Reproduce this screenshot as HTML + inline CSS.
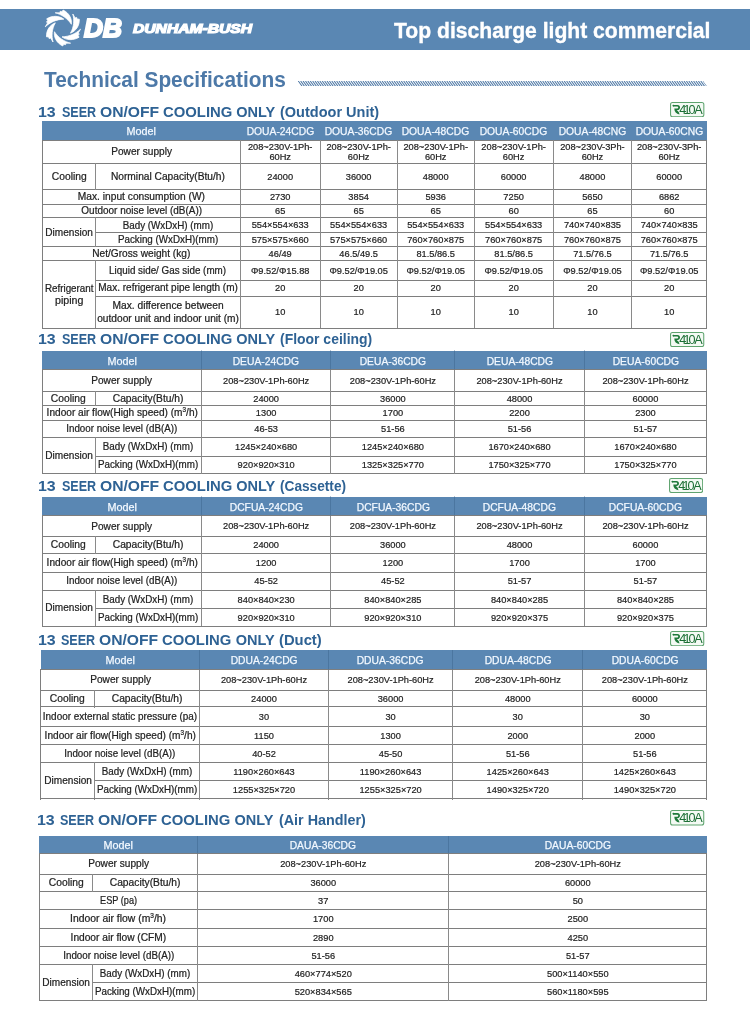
<!DOCTYPE html>
<html><head><meta charset="utf-8"><title>Technical Specifications</title><style>
html,body{margin:0;padding:0;background:#fff}
body{width:750px;height:1016px;position:relative;overflow:hidden;will-change:transform;font-family:"Liberation Sans",sans-serif;color:#222}
.l{position:absolute}
.hb{position:absolute;background:#5a87b3}
.c{position:absolute;display:flex;align-items:center;justify-content:center;text-align:center;white-space:nowrap;box-sizing:border-box}
.c span,.t span,.lg span,.lg2 span,.ts span{display:inline-block}
.h{color:#f2f8ff;font-size:10.5px;-webkit-text-stroke:.25px #f2f8ff}
.h span{transform:scaleX(.98)}
.c span.bl{display:block}
.lb{font-size:10.2px;line-height:12.3px;-webkit-text-stroke:.22px #222}
.d{font-size:9.25px;line-height:10.6px;-webkit-text-stroke:.2px #222}
sup{font-size:6.4px;line-height:0;vertical-align:baseline;position:relative;top:-4.3px}
.t{position:absolute;font-weight:700;color:#2e6294;white-space:nowrap}
.t span{transform-origin:0 50%}
.lg{position:absolute;color:#fff;font-weight:700;font-style:italic;white-space:nowrap}
.lg span,.lg2 span,.ts span{transform-origin:0 50%}
.lg2{position:absolute;color:#fff;font-weight:700;white-space:nowrap}
.ts{position:absolute;color:#4d79a8;font-weight:700;white-space:nowrap}
.hatch{background:repeating-linear-gradient(55deg,#5c85b0 0,#5c85b0 0.95px,#fff 0.95px,#fff 1.75px);clip-path:polygon(0 0,99.3% 0,100% 100%,0.7% 100%)}
</style></head><body>
<div class="l" style="left:0;top:9px;width:750px;height:40.6px;background:#5a87b3"></div>
<svg class="l" style="left:41.8px;top:8.4px" width="41.8" height="40" viewBox="-20 -20 40 40" preserveAspectRatio="none"><g fill="#fff" stroke="#fff" stroke-width=".7" stroke-linejoin="round"><path transform="rotate(0)" d="M8.1,-3.7 C8.9,-9.3 6.0,-15.0 0.2,-18.0 L-0.9,-16.2 L-2.6,-16.7 L-2.9,-15.2 L-7.4,-15.2 C-1.5,-13.6 4.2,-10.0 8.1,-3.7 Z"/><path transform="rotate(60)" d="M8.1,-3.7 C8.9,-9.3 6.0,-15.0 0.2,-18.0 L-0.9,-16.2 L-2.6,-16.7 L-2.9,-15.2 L-7.4,-15.2 C-1.5,-13.6 4.2,-10.0 8.1,-3.7 Z"/><path transform="rotate(120)" d="M8.1,-3.7 C8.9,-9.3 6.0,-15.0 0.2,-18.0 L-0.9,-16.2 L-2.6,-16.7 L-2.9,-15.2 L-7.4,-15.2 C-1.5,-13.6 4.2,-10.0 8.1,-3.7 Z"/><path transform="rotate(180)" d="M8.1,-3.7 C8.9,-9.3 6.0,-15.0 0.2,-18.0 L-0.9,-16.2 L-2.6,-16.7 L-2.9,-15.2 L-7.4,-15.2 C-1.5,-13.6 4.2,-10.0 8.1,-3.7 Z"/><path transform="rotate(240)" d="M8.1,-3.7 C8.9,-9.3 6.0,-15.0 0.2,-18.0 L-0.9,-16.2 L-2.6,-16.7 L-2.9,-15.2 L-7.4,-15.2 C-1.5,-13.6 4.2,-10.0 8.1,-3.7 Z"/><path transform="rotate(300)" d="M8.1,-3.7 C8.9,-9.3 6.0,-15.0 0.2,-18.0 L-0.9,-16.2 L-2.6,-16.7 L-2.9,-15.2 L-7.4,-15.2 C-1.5,-13.6 4.2,-10.0 8.1,-3.7 Z"/></g></svg>
<div class="lg" style="left:84.2px;top:8.4px;font-size:25px;line-height:40px;-webkit-text-stroke:2px #fff"><span style="transform:scaleX(1.05)">DB</span></div>
<div class="lg" style="left:133.1px;top:9.4px;font-size:12.3px;line-height:40px;-webkit-text-stroke:1.15px #fff"><span style="transform:scaleX(1.272)">DUNHAM-BUSH</span></div>
<div class="lg2" style="left:394.2px;top:11.2px;font-size:22px;line-height:40px;-webkit-text-stroke:.35px #fff"><span style="transform:scaleX(.960)">Top discharge light commercial</span></div>
<div class="ts" style="left:43.5px;top:64.75px;font-size:21.8px;line-height:30px"><span style="transform:scaleX(.957)">Technical Specifications</span></div>
<svg class="l" style="left:296.8px;top:80.5px" width="410.4" height="5.4" viewBox="0 0 410.4 5.4"><defs><clipPath id="hc"><path d="M0 0H406.5L410.4 5.4H3.9Z"/></clipPath></defs><path clip-path="url(#hc)" d="M-3.9 0l3.9 5.4M-1.5 0l3.9 5.4M0.9 0l3.9 5.4M3.3 0l3.9 5.4M5.7 0l3.9 5.4M8.1 0l3.9 5.4M10.5 0l3.9 5.4M12.9 0l3.9 5.4M15.3 0l3.9 5.4M17.7 0l3.9 5.4M20.1 0l3.9 5.4M22.5 0l3.9 5.4M24.9 0l3.9 5.4M27.3 0l3.9 5.4M29.7 0l3.9 5.4M32.1 0l3.9 5.4M34.5 0l3.9 5.4M36.9 0l3.9 5.4M39.3 0l3.9 5.4M41.7 0l3.9 5.4M44.1 0l3.9 5.4M46.5 0l3.9 5.4M48.9 0l3.9 5.4M51.3 0l3.9 5.4M53.7 0l3.9 5.4M56.1 0l3.9 5.4M58.5 0l3.9 5.4M60.9 0l3.9 5.4M63.3 0l3.9 5.4M65.7 0l3.9 5.4M68.1 0l3.9 5.4M70.5 0l3.9 5.4M72.9 0l3.9 5.4M75.3 0l3.9 5.4M77.7 0l3.9 5.4M80.1 0l3.9 5.4M82.5 0l3.9 5.4M84.9 0l3.9 5.4M87.3 0l3.9 5.4M89.7 0l3.9 5.4M92.1 0l3.9 5.4M94.5 0l3.9 5.4M96.9 0l3.9 5.4M99.3 0l3.9 5.4M101.7 0l3.9 5.4M104.1 0l3.9 5.4M106.5 0l3.9 5.4M108.9 0l3.9 5.4M111.3 0l3.9 5.4M113.7 0l3.9 5.4M116.1 0l3.9 5.4M118.5 0l3.9 5.4M120.9 0l3.9 5.4M123.3 0l3.9 5.4M125.7 0l3.9 5.4M128.1 0l3.9 5.4M130.5 0l3.9 5.4M132.9 0l3.9 5.4M135.3 0l3.9 5.4M137.7 0l3.9 5.4M140.1 0l3.9 5.4M142.5 0l3.9 5.4M144.9 0l3.9 5.4M147.3 0l3.9 5.4M149.7 0l3.9 5.4M152.1 0l3.9 5.4M154.5 0l3.9 5.4M156.9 0l3.9 5.4M159.3 0l3.9 5.4M161.7 0l3.9 5.4M164.1 0l3.9 5.4M166.5 0l3.9 5.4M168.9 0l3.9 5.4M171.3 0l3.9 5.4M173.7 0l3.9 5.4M176.1 0l3.9 5.4M178.5 0l3.9 5.4M180.9 0l3.9 5.4M183.3 0l3.9 5.4M185.7 0l3.9 5.4M188.1 0l3.9 5.4M190.5 0l3.9 5.4M192.9 0l3.9 5.4M195.3 0l3.9 5.4M197.7 0l3.9 5.4M200.1 0l3.9 5.4M202.5 0l3.9 5.4M204.9 0l3.9 5.4M207.3 0l3.9 5.4M209.7 0l3.9 5.4M212.1 0l3.9 5.4M214.5 0l3.9 5.4M216.9 0l3.9 5.4M219.3 0l3.9 5.4M221.7 0l3.9 5.4M224.1 0l3.9 5.4M226.5 0l3.9 5.4M228.9 0l3.9 5.4M231.3 0l3.9 5.4M233.7 0l3.9 5.4M236.1 0l3.9 5.4M238.5 0l3.9 5.4M240.9 0l3.9 5.4M243.3 0l3.9 5.4M245.7 0l3.9 5.4M248.1 0l3.9 5.4M250.5 0l3.9 5.4M252.9 0l3.9 5.4M255.3 0l3.9 5.4M257.7 0l3.9 5.4M260.1 0l3.9 5.4M262.5 0l3.9 5.4M264.9 0l3.9 5.4M267.3 0l3.9 5.4M269.7 0l3.9 5.4M272.1 0l3.9 5.4M274.5 0l3.9 5.4M276.9 0l3.9 5.4M279.3 0l3.9 5.4M281.7 0l3.9 5.4M284.1 0l3.9 5.4M286.5 0l3.9 5.4M288.9 0l3.9 5.4M291.3 0l3.9 5.4M293.7 0l3.9 5.4M296.1 0l3.9 5.4M298.5 0l3.9 5.4M300.9 0l3.9 5.4M303.3 0l3.9 5.4M305.7 0l3.9 5.4M308.1 0l3.9 5.4M310.5 0l3.9 5.4M312.9 0l3.9 5.4M315.3 0l3.9 5.4M317.7 0l3.9 5.4M320.1 0l3.9 5.4M322.5 0l3.9 5.4M324.9 0l3.9 5.4M327.3 0l3.9 5.4M329.7 0l3.9 5.4M332.1 0l3.9 5.4M334.5 0l3.9 5.4M336.9 0l3.9 5.4M339.3 0l3.9 5.4M341.7 0l3.9 5.4M344.1 0l3.9 5.4M346.5 0l3.9 5.4M348.9 0l3.9 5.4M351.3 0l3.9 5.4M353.7 0l3.9 5.4M356.1 0l3.9 5.4M358.5 0l3.9 5.4M360.9 0l3.9 5.4M363.3 0l3.9 5.4M365.7 0l3.9 5.4M368.1 0l3.9 5.4M370.5 0l3.9 5.4M372.9 0l3.9 5.4M375.3 0l3.9 5.4M377.7 0l3.9 5.4M380.1 0l3.9 5.4M382.5 0l3.9 5.4M384.9 0l3.9 5.4M387.3 0l3.9 5.4M389.7 0l3.9 5.4M392.1 0l3.9 5.4M394.5 0l3.9 5.4M396.9 0l3.9 5.4M399.3 0l3.9 5.4M401.7 0l3.9 5.4M404.1 0l3.9 5.4M406.5 0l3.9 5.4M408.9 0l3.9 5.4" stroke="#4f79a6" stroke-width="1.05" fill="none"/></svg>
<div class="t" style="left:38.40px;top:103.65px;font-size:14.5px;line-height:16.660px"><span style="transform:scaleX(1.1000)">13</span></div>
<div class="t" style="left:61.73px;top:103.65px;font-size:14.5px;line-height:16.660px"><span style="transform:scaleX(0.8658)">SEER</span></div>
<div class="t" style="left:99.62px;top:103.65px;font-size:14.5px;line-height:16.660px"><span style="transform:scaleX(1.0796)">ON/OFF</span></div>
<div class="t" style="left:162.88px;top:103.65px;font-size:14.5px;line-height:16.660px"><span style="transform:scaleX(1.0242)">COOLING</span></div>
<div class="t" style="left:236.20px;top:103.65px;font-size:14.5px;line-height:16.660px"><span style="transform:scaleX(1.0000)">ONLY</span></div>
<div class="t" style="left:279.80px;top:103.65px;font-size:14.5px;line-height:16.660px"><span style="transform:scaleX(1.0010)">(Outdoor Unit)</span></div>
<svg class="l" style="left:670.40px;top:102.20px" width="34.40" height="15.30" viewBox="0 0 34.4 15.3" preserveAspectRatio="none">
<rect x="0.55" y="0.55" width="33.3" height="14.2" rx="2" fill="#f4faf4" stroke="#5fa46f" stroke-width="1.05"/>
<path d="M2.1,3.8 L3.9,2.5 L3.9,3.0 L7.5,3.0 C10.9,3.0 10.9,8.1 7.5,8.1 L6.7,8.1 C8.5,9.2 9.3,10.6 9.5,12.4 C6.3,11.9 4.3,10 4.3,6.6 L7.3,6.6 C8.6,6.6 8.6,4.6 7.3,4.6 L3.9,4.6 L3.9,5.1 Z" fill="#1f7a3a"/>
<text y="12.15" x="9.2 13.6 18.6 24.3" font-family="Liberation Sans, sans-serif" font-size="12.7" fill="#1c6f35">410A</text>
</svg>
<div class="hb" style="left:42.30px;top:121.40px;width:664.40px;height:18.90px"></div>
<div class="c h" style="left:42.30px;top:122.00px;width:198.10px;height:18.90px"><span style="transform:scaleX(1.03)">Model</span></div>
<div class="c h" style="left:240.40px;top:122.00px;width:79.60px;height:18.90px"><span>DOUA-24CDG</span></div>
<div class="c h" style="left:320.00px;top:122.00px;width:77.30px;height:18.90px"><span>DOUA-36CDG</span></div>
<div class="c h" style="left:397.30px;top:122.00px;width:76.80px;height:18.90px"><span>DOUA-48CDG</span></div>
<div class="c h" style="left:474.10px;top:122.00px;width:79.10px;height:18.90px"><span>DOUA-60CDG</span></div>
<div class="c h" style="left:553.20px;top:122.00px;width:78.50px;height:18.90px"><span>DOUA-48CNG</span></div>
<div class="c h" style="left:631.70px;top:122.00px;width:75.00px;height:18.90px"><span>DOUA-60CNG</span></div>
<div class="c lb" style="left:42.30px;top:140.90px;width:198.10px;height:23.10px"><span style="transform:scaleX(0.993)">Power supply</span></div>
<div class="l" style="left:42px;top:140px;width:665px;height:1px;background:#7e7e7e"></div>
<div class="c d" style="left:240.40px;top:140.90px;width:79.60px;height:23.10px"><span>208~230V-1Ph-<br>60Hz</span></div>
<div class="c d" style="left:320.00px;top:140.90px;width:77.30px;height:23.10px"><span>208~230V-1Ph-<br>60Hz</span></div>
<div class="c d" style="left:397.30px;top:140.90px;width:76.80px;height:23.10px"><span>208~230V-1Ph-<br>60Hz</span></div>
<div class="c d" style="left:474.10px;top:140.90px;width:79.10px;height:23.10px"><span>208~230V-1Ph-<br>60Hz</span></div>
<div class="c d" style="left:553.20px;top:140.90px;width:78.50px;height:23.10px"><span>208~230V-3Ph-<br>60Hz</span></div>
<div class="c d" style="left:631.70px;top:140.90px;width:75.00px;height:23.10px"><span>208~230V-3Ph-<br>60Hz</span></div>
<div class="c lb" style="left:95.30px;top:164.00px;width:145.10px;height:25.90px"><span style="transform:scaleX(1.001)">Norminal Capacity(Btu/h)</span></div>
<div class="l" style="left:42px;top:163px;width:665px;height:1px;background:#7e7e7e"></div>
<div class="c d" style="left:240.40px;top:164.00px;width:79.60px;height:25.90px"><span>24000</span></div>
<div class="c d" style="left:320.00px;top:164.00px;width:77.30px;height:25.90px"><span>36000</span></div>
<div class="c d" style="left:397.30px;top:164.00px;width:76.80px;height:25.90px"><span>48000</span></div>
<div class="c d" style="left:474.10px;top:164.00px;width:79.10px;height:25.90px"><span>60000</span></div>
<div class="c d" style="left:553.20px;top:164.00px;width:78.50px;height:25.90px"><span>48000</span></div>
<div class="c d" style="left:631.70px;top:164.00px;width:75.00px;height:25.90px"><span>60000</span></div>
<div class="c lb" style="left:42.30px;top:189.90px;width:198.10px;height:14.70px"><span style="transform:scaleX(1.003)">Max. input consumption (W)</span></div>
<div class="l" style="left:42px;top:189px;width:665px;height:1px;background:#7e7e7e"></div>
<div class="c d" style="left:240.40px;top:189.90px;width:79.60px;height:14.70px"><span>2730</span></div>
<div class="c d" style="left:320.00px;top:189.90px;width:77.30px;height:14.70px"><span>3854</span></div>
<div class="c d" style="left:397.30px;top:189.90px;width:76.80px;height:14.70px"><span>5936</span></div>
<div class="c d" style="left:474.10px;top:189.90px;width:79.10px;height:14.70px"><span>7250</span></div>
<div class="c d" style="left:553.20px;top:189.90px;width:78.50px;height:14.70px"><span>5650</span></div>
<div class="c d" style="left:631.70px;top:189.90px;width:75.00px;height:14.70px"><span>6862</span></div>
<div class="c lb" style="left:42.30px;top:204.60px;width:198.10px;height:13.70px"><span style="transform:scaleX(0.978)">Outdoor noise level (dB(A))</span></div>
<div class="l" style="left:42px;top:204px;width:665px;height:1px;background:#7e7e7e"></div>
<div class="c d" style="left:240.40px;top:204.60px;width:79.60px;height:13.70px"><span>65</span></div>
<div class="c d" style="left:320.00px;top:204.60px;width:77.30px;height:13.70px"><span>65</span></div>
<div class="c d" style="left:397.30px;top:204.60px;width:76.80px;height:13.70px"><span>65</span></div>
<div class="c d" style="left:474.10px;top:204.60px;width:79.10px;height:13.70px"><span>60</span></div>
<div class="c d" style="left:553.20px;top:204.60px;width:78.50px;height:13.70px"><span>65</span></div>
<div class="c d" style="left:631.70px;top:204.60px;width:75.00px;height:13.70px"><span>60</span></div>
<div class="c lb" style="left:95.30px;top:218.30px;width:145.10px;height:14.90px"><span style="transform:scaleX(0.964)">Bady (WxDxH) (mm)</span></div>
<div class="l" style="left:42px;top:217px;width:665px;height:1px;background:#7e7e7e"></div>
<div class="c d" style="left:240.40px;top:218.30px;width:79.60px;height:14.90px"><span>554×554×633</span></div>
<div class="c d" style="left:320.00px;top:218.30px;width:77.30px;height:14.90px"><span>554×554×633</span></div>
<div class="c d" style="left:397.30px;top:218.30px;width:76.80px;height:14.90px"><span>554×554×633</span></div>
<div class="c d" style="left:474.10px;top:218.30px;width:79.10px;height:14.90px"><span>554×554×633</span></div>
<div class="c d" style="left:553.20px;top:218.30px;width:78.50px;height:14.90px"><span>740×740×835</span></div>
<div class="c d" style="left:631.70px;top:218.30px;width:75.00px;height:14.90px"><span>740×740×835</span></div>
<div class="c lb" style="left:95.30px;top:233.20px;width:145.10px;height:14.20px"><span style="transform:scaleX(0.963)">Packing (WxDxH)(mm)</span></div>
<div class="l" style="left:95px;top:232px;width:612px;height:1px;background:#7e7e7e"></div>
<div class="c d" style="left:240.40px;top:233.20px;width:79.60px;height:14.20px"><span>575×575×660</span></div>
<div class="c d" style="left:320.00px;top:233.20px;width:77.30px;height:14.20px"><span>575×575×660</span></div>
<div class="c d" style="left:397.30px;top:233.20px;width:76.80px;height:14.20px"><span>760×760×875</span></div>
<div class="c d" style="left:474.10px;top:233.20px;width:79.10px;height:14.20px"><span>760×760×875</span></div>
<div class="c d" style="left:553.20px;top:233.20px;width:78.50px;height:14.20px"><span>760×760×875</span></div>
<div class="c d" style="left:631.70px;top:233.20px;width:75.00px;height:14.20px"><span>760×760×875</span></div>
<div class="c lb" style="left:42.30px;top:247.40px;width:198.10px;height:14.20px"><span style="transform:scaleX(0.996)">Net/Gross weight (kg)</span></div>
<div class="l" style="left:42px;top:246px;width:665px;height:1px;background:#7e7e7e"></div>
<div class="c d" style="left:240.40px;top:247.40px;width:79.60px;height:14.20px"><span>46/49</span></div>
<div class="c d" style="left:320.00px;top:247.40px;width:77.30px;height:14.20px"><span>46.5/49.5</span></div>
<div class="c d" style="left:397.30px;top:247.40px;width:76.80px;height:14.20px"><span>81.5/86.5</span></div>
<div class="c d" style="left:474.10px;top:247.40px;width:79.10px;height:14.20px"><span>81.5/86.5</span></div>
<div class="c d" style="left:553.20px;top:247.40px;width:78.50px;height:14.20px"><span>71.5/76.5</span></div>
<div class="c d" style="left:631.70px;top:247.40px;width:75.00px;height:14.20px"><span>71.5/76.5</span></div>
<div class="c lb" style="left:95.30px;top:261.60px;width:145.10px;height:19.00px"><span style="transform:scaleX(0.965)">Liquid side/ Gas side (mm)</span></div>
<div class="l" style="left:42px;top:260px;width:665px;height:1px;background:#7e7e7e"></div>
<div class="c d" style="left:240.40px;top:261.60px;width:79.60px;height:19.00px"><span>Φ9.52/Φ15.88</span></div>
<div class="c d" style="left:320.00px;top:261.60px;width:77.30px;height:19.00px"><span>Φ9.52/Φ19.05</span></div>
<div class="c d" style="left:397.30px;top:261.60px;width:76.80px;height:19.00px"><span>Φ9.52/Φ19.05</span></div>
<div class="c d" style="left:474.10px;top:261.60px;width:79.10px;height:19.00px"><span>Φ9.52/Φ19.05</span></div>
<div class="c d" style="left:553.20px;top:261.60px;width:78.50px;height:19.00px"><span>Φ9.52/Φ19.05</span></div>
<div class="c d" style="left:631.70px;top:261.60px;width:75.00px;height:19.00px"><span>Φ9.52/Φ19.05</span></div>
<div class="c lb" style="left:95.30px;top:280.60px;width:145.10px;height:16.00px"><span style="transform:scaleX(0.982)">Max. refrigerant pipe length (m)</span></div>
<div class="l" style="left:95px;top:280px;width:612px;height:1px;background:#7e7e7e"></div>
<div class="c d" style="left:240.40px;top:280.60px;width:79.60px;height:16.00px"><span>20</span></div>
<div class="c d" style="left:320.00px;top:280.60px;width:77.30px;height:16.00px"><span>20</span></div>
<div class="c d" style="left:397.30px;top:280.60px;width:76.80px;height:16.00px"><span>20</span></div>
<div class="c d" style="left:474.10px;top:280.60px;width:79.10px;height:16.00px"><span>20</span></div>
<div class="c d" style="left:553.20px;top:280.60px;width:78.50px;height:16.00px"><span>20</span></div>
<div class="c d" style="left:631.70px;top:280.60px;width:75.00px;height:16.00px"><span>20</span></div>
<div class="c lb" style="left:95.30px;top:296.60px;width:145.10px;height:32.00px"><div><span class="bl" style="transform:scaleX(1.003)">Max. difference between</span><span class="bl" style="transform:scaleX(0.997)">outdoor unit and indoor unit (m)</span></div></div>
<div class="l" style="left:95px;top:296px;width:612px;height:1px;background:#7e7e7e"></div>
<div class="c d" style="left:240.40px;top:296.60px;width:79.60px;height:32.00px"><span>10</span></div>
<div class="c d" style="left:320.00px;top:296.60px;width:77.30px;height:32.00px"><span>10</span></div>
<div class="c d" style="left:397.30px;top:296.60px;width:76.80px;height:32.00px"><span>10</span></div>
<div class="c d" style="left:474.10px;top:296.60px;width:79.10px;height:32.00px"><span>10</span></div>
<div class="c d" style="left:553.20px;top:296.60px;width:78.50px;height:32.00px"><span>10</span></div>
<div class="c d" style="left:631.70px;top:296.60px;width:75.00px;height:32.00px"><span>10</span></div>
<div class="c lb" style="left:42.30px;top:164.00px;width:53.00px;height:25.90px"><span style="transform:scaleX(1.01)">Cooling</span></div>
<div class="l" style="left:95px;top:163px;width:1px;height:27px;background:#8a8a8a"></div>
<div class="c lb" style="left:42.30px;top:218.30px;width:53.00px;height:29.10px"><span style="transform:scaleX(0.989)">Dimension</span></div>
<div class="l" style="left:95px;top:217px;width:1px;height:30px;background:#8a8a8a"></div>
<div class="c lb" style="left:42.30px;top:261.60px;width:53.00px;height:67.00px"><div><span class="bl" style="transform:scaleX(0.964)">Refrigerant</span><span class="bl" style="transform:scaleX(1.044)">piping</span></div></div>
<div class="l" style="left:95px;top:260px;width:1px;height:68px;background:#8a8a8a"></div>
<div class="l" style="left:42px;top:328px;width:665px;height:1px;background:#7e7e7e"></div>
<div class="l" style="left:42px;top:140px;width:1px;height:188px;background:#7e7e7e"></div>
<div class="l" style="left:706px;top:140px;width:1px;height:188px;background:#7e7e7e"></div>
<div class="l" style="left:240px;top:140px;width:1px;height:188px;background:#8a8a8a"></div>
<div class="l" style="left:320px;top:140px;width:1px;height:188px;background:#8a8a8a"></div>
<div class="l" style="left:397px;top:140px;width:1px;height:188px;background:#8a8a8a"></div>
<div class="l" style="left:474px;top:140px;width:1px;height:188px;background:#8a8a8a"></div>
<div class="l" style="left:553px;top:140px;width:1px;height:188px;background:#8a8a8a"></div>
<div class="l" style="left:631px;top:140px;width:1px;height:188px;background:#8a8a8a"></div>
<div class="t" style="left:38.40px;top:331.35px;font-size:14.5px;line-height:16.660px"><span style="transform:scaleX(1.1000)">13</span></div>
<div class="t" style="left:61.73px;top:331.35px;font-size:14.5px;line-height:16.660px"><span style="transform:scaleX(0.8658)">SEER</span></div>
<div class="t" style="left:99.62px;top:331.35px;font-size:14.5px;line-height:16.660px"><span style="transform:scaleX(1.0796)">ON/OFF</span></div>
<div class="t" style="left:162.88px;top:331.35px;font-size:14.5px;line-height:16.660px"><span style="transform:scaleX(1.0242)">COOLING</span></div>
<div class="t" style="left:236.20px;top:331.35px;font-size:14.5px;line-height:16.660px"><span style="transform:scaleX(1.0000)">ONLY</span></div>
<div class="t" style="left:279.84px;top:331.35px;font-size:14.5px;line-height:16.660px"><span style="transform:scaleX(0.9617)">(Floor ceiling)</span></div>
<svg class="l" style="left:670.40px;top:331.60px" width="34.30" height="15.20" viewBox="0 0 34.4 15.3" preserveAspectRatio="none">
<rect x="0.55" y="0.55" width="33.3" height="14.2" rx="2" fill="#f4faf4" stroke="#5fa46f" stroke-width="1.05"/>
<path d="M2.1,3.8 L3.9,2.5 L3.9,3.0 L7.5,3.0 C10.9,3.0 10.9,8.1 7.5,8.1 L6.7,8.1 C8.5,9.2 9.3,10.6 9.5,12.4 C6.3,11.9 4.3,10 4.3,6.6 L7.3,6.6 C8.6,6.6 8.6,4.6 7.3,4.6 L3.9,4.6 L3.9,5.1 Z" fill="#1f7a3a"/>
<text y="12.15" x="9.2 13.6 18.6 24.3" font-family="Liberation Sans, sans-serif" font-size="12.7" fill="#1c6f35">410A</text>
</svg>
<div class="hb" style="left:42.20px;top:351.00px;width:664.70px;height:18.60px"></div>
<div class="c h" style="left:42.20px;top:351.60px;width:159.30px;height:18.60px"><span style="transform:scaleX(1.03)">Model</span></div>
<div class="c h" style="left:201.50px;top:351.60px;width:129.30px;height:18.60px"><span>DEUA-24CDG</span></div>
<div class="c h" style="left:330.80px;top:351.60px;width:124.20px;height:18.60px"><span>DEUA-36CDG</span></div>
<div class="c h" style="left:455.00px;top:351.60px;width:129.00px;height:18.60px"><span>DEUA-48CDG</span></div>
<div class="c h" style="left:584.00px;top:351.60px;width:122.90px;height:18.60px"><span>DEUA-60CDG</span></div>
<div class="c lb" style="left:42.20px;top:370.20px;width:159.30px;height:21.50px"><span style="transform:scaleX(0.993)">Power supply</span></div>
<div class="l" style="left:42px;top:369px;width:665px;height:1px;background:#7e7e7e"></div>
<div class="c d" style="left:201.50px;top:370.20px;width:129.30px;height:21.50px"><span>208~230V-1Ph-60Hz</span></div>
<div class="c d" style="left:330.80px;top:370.20px;width:124.20px;height:21.50px"><span>208~230V-1Ph-60Hz</span></div>
<div class="c d" style="left:455.00px;top:370.20px;width:129.00px;height:21.50px"><span>208~230V-1Ph-60Hz</span></div>
<div class="c d" style="left:584.00px;top:370.20px;width:122.90px;height:21.50px"><span>208~230V-1Ph-60Hz</span></div>
<div class="c lb" style="left:95.30px;top:391.70px;width:106.20px;height:14.70px"><span style="transform:scaleX(1.008)">Capacity(Btu/h)</span></div>
<div class="l" style="left:42px;top:391px;width:665px;height:1px;background:#7e7e7e"></div>
<div class="c d" style="left:201.50px;top:391.70px;width:129.30px;height:14.70px"><span>24000</span></div>
<div class="c d" style="left:330.80px;top:391.70px;width:124.20px;height:14.70px"><span>36000</span></div>
<div class="c d" style="left:455.00px;top:391.70px;width:129.00px;height:14.70px"><span>48000</span></div>
<div class="c d" style="left:584.00px;top:391.70px;width:122.90px;height:14.70px"><span>60000</span></div>
<div class="c lb" style="left:42.20px;top:406.40px;width:159.30px;height:14.20px"><span style="transform:scaleX(0.992)">Indoor air flow(High speed) (m<sup>3</sup>/h)</span></div>
<div class="l" style="left:42px;top:405px;width:665px;height:1px;background:#7e7e7e"></div>
<div class="c d" style="left:201.50px;top:406.40px;width:129.30px;height:14.20px"><span>1300</span></div>
<div class="c d" style="left:330.80px;top:406.40px;width:124.20px;height:14.20px"><span>1700</span></div>
<div class="c d" style="left:455.00px;top:406.40px;width:129.00px;height:14.20px"><span>2200</span></div>
<div class="c d" style="left:584.00px;top:406.40px;width:122.90px;height:14.20px"><span>2300</span></div>
<div class="c lb" style="left:42.20px;top:420.60px;width:159.30px;height:17.10px"><span style="transform:scaleX(0.961)">Indoor noise level (dB(A))</span></div>
<div class="l" style="left:42px;top:420px;width:665px;height:1px;background:#7e7e7e"></div>
<div class="c d" style="left:201.50px;top:420.60px;width:129.30px;height:17.10px"><span>46-53</span></div>
<div class="c d" style="left:330.80px;top:420.60px;width:124.20px;height:17.10px"><span>51-56</span></div>
<div class="c d" style="left:455.00px;top:420.60px;width:129.00px;height:17.10px"><span>51-56</span></div>
<div class="c d" style="left:584.00px;top:420.60px;width:122.90px;height:17.10px"><span>51-57</span></div>
<div class="c lb" style="left:95.30px;top:437.70px;width:106.20px;height:18.90px"><span style="transform:scaleX(0.964)">Bady (WxDxH) (mm)</span></div>
<div class="l" style="left:42px;top:437px;width:665px;height:1px;background:#7e7e7e"></div>
<div class="c d" style="left:201.50px;top:437.70px;width:129.30px;height:18.90px"><span>1245×240×680</span></div>
<div class="c d" style="left:330.80px;top:437.70px;width:124.20px;height:18.90px"><span>1245×240×680</span></div>
<div class="c d" style="left:455.00px;top:437.70px;width:129.00px;height:18.90px"><span>1670×240×680</span></div>
<div class="c d" style="left:584.00px;top:437.70px;width:122.90px;height:18.90px"><span>1670×240×680</span></div>
<div class="c lb" style="left:95.30px;top:456.60px;width:106.20px;height:17.90px"><span style="transform:scaleX(0.963)">Packing (WxDxH)(mm)</span></div>
<div class="l" style="left:95px;top:456px;width:612px;height:1px;background:#7e7e7e"></div>
<div class="c d" style="left:201.50px;top:456.60px;width:129.30px;height:17.90px"><span>920×920×310</span></div>
<div class="c d" style="left:330.80px;top:456.60px;width:124.20px;height:17.90px"><span>1325×325×770</span></div>
<div class="c d" style="left:455.00px;top:456.60px;width:129.00px;height:17.90px"><span>1750×325×770</span></div>
<div class="c d" style="left:584.00px;top:456.60px;width:122.90px;height:17.90px"><span>1750×325×770</span></div>
<div class="c lb" style="left:42.20px;top:391.70px;width:53.10px;height:14.70px"><span style="transform:scaleX(1.01)">Cooling</span></div>
<div class="l" style="left:95px;top:391px;width:1px;height:15px;background:#8a8a8a"></div>
<div class="c lb" style="left:42.20px;top:437.70px;width:53.10px;height:36.80px"><span style="transform:scaleX(0.989)">Dimension</span></div>
<div class="l" style="left:95px;top:437px;width:1px;height:37px;background:#8a8a8a"></div>
<div class="l" style="left:42px;top:473px;width:665px;height:1px;background:#7e7e7e"></div>
<div class="l" style="left:42px;top:369px;width:1px;height:105px;background:#7e7e7e"></div>
<div class="l" style="left:706px;top:369px;width:1px;height:105px;background:#7e7e7e"></div>
<div class="l" style="left:201px;top:369px;width:1px;height:105px;background:#8a8a8a"></div>
<div class="l" style="left:201px;top:350px;width:1px;height:20px;background:rgba(50,85,125,.35)"></div>
<div class="l" style="left:330px;top:369px;width:1px;height:105px;background:#8a8a8a"></div>
<div class="l" style="left:330px;top:350px;width:1px;height:20px;background:rgba(50,85,125,.35)"></div>
<div class="l" style="left:454px;top:369px;width:1px;height:105px;background:#8a8a8a"></div>
<div class="l" style="left:454px;top:350px;width:1px;height:20px;background:rgba(50,85,125,.35)"></div>
<div class="l" style="left:584px;top:369px;width:1px;height:105px;background:#8a8a8a"></div>
<div class="l" style="left:584px;top:350px;width:1px;height:20px;background:rgba(50,85,125,.35)"></div>
<div class="t" style="left:38.40px;top:477.95px;font-size:14.5px;line-height:16.660px"><span style="transform:scaleX(1.1000)">13</span></div>
<div class="t" style="left:61.73px;top:477.95px;font-size:14.5px;line-height:16.660px"><span style="transform:scaleX(0.8658)">SEER</span></div>
<div class="t" style="left:99.62px;top:477.95px;font-size:14.5px;line-height:16.660px"><span style="transform:scaleX(1.0796)">ON/OFF</span></div>
<div class="t" style="left:162.88px;top:477.95px;font-size:14.5px;line-height:16.660px"><span style="transform:scaleX(1.0242)">COOLING</span></div>
<div class="t" style="left:236.20px;top:477.95px;font-size:14.5px;line-height:16.660px"><span style="transform:scaleX(1.0000)">ONLY</span></div>
<div class="t" style="left:279.86px;top:477.95px;font-size:14.5px;line-height:16.660px"><span style="transform:scaleX(0.9420)">(Cassette)</span></div>
<svg class="l" style="left:668.50px;top:477.90px" width="34.20" height="15.10" viewBox="0 0 34.4 15.3" preserveAspectRatio="none">
<rect x="0.55" y="0.55" width="33.3" height="14.2" rx="2" fill="#f4faf4" stroke="#5fa46f" stroke-width="1.05"/>
<path d="M2.1,3.8 L3.9,2.5 L3.9,3.0 L7.5,3.0 C10.9,3.0 10.9,8.1 7.5,8.1 L6.7,8.1 C8.5,9.2 9.3,10.6 9.5,12.4 C6.3,11.9 4.3,10 4.3,6.6 L7.3,6.6 C8.6,6.6 8.6,4.6 7.3,4.6 L3.9,4.6 L3.9,5.1 Z" fill="#1f7a3a"/>
<text y="12.15" x="9.2 13.6 18.6 24.3" font-family="Liberation Sans, sans-serif" font-size="12.7" fill="#1c6f35">410A</text>
</svg>
<div class="hb" style="left:42.20px;top:496.50px;width:664.70px;height:18.90px"></div>
<div class="c h" style="left:42.20px;top:497.10px;width:159.30px;height:18.90px"><span style="transform:scaleX(1.03)">Model</span></div>
<div class="c h" style="left:201.50px;top:497.10px;width:129.30px;height:18.90px"><span>DCFUA-24CDG</span></div>
<div class="c h" style="left:330.80px;top:497.10px;width:124.20px;height:18.90px"><span>DCFUA-36CDG</span></div>
<div class="c h" style="left:455.00px;top:497.10px;width:129.00px;height:18.90px"><span>DCFUA-48CDG</span></div>
<div class="c h" style="left:584.00px;top:497.10px;width:122.90px;height:18.90px"><span>DCFUA-60CDG</span></div>
<div class="c lb" style="left:42.20px;top:516.00px;width:159.30px;height:21.30px"><span style="transform:scaleX(0.993)">Power supply</span></div>
<div class="l" style="left:42px;top:515px;width:665px;height:1px;background:#7e7e7e"></div>
<div class="c d" style="left:201.50px;top:516.00px;width:129.30px;height:21.30px"><span>208~230V-1Ph-60Hz</span></div>
<div class="c d" style="left:330.80px;top:516.00px;width:124.20px;height:21.30px"><span>208~230V-1Ph-60Hz</span></div>
<div class="c d" style="left:455.00px;top:516.00px;width:129.00px;height:21.30px"><span>208~230V-1Ph-60Hz</span></div>
<div class="c d" style="left:584.00px;top:516.00px;width:122.90px;height:21.30px"><span>208~230V-1Ph-60Hz</span></div>
<div class="c lb" style="left:95.30px;top:537.30px;width:106.20px;height:16.40px"><span style="transform:scaleX(1.008)">Capacity(Btu/h)</span></div>
<div class="l" style="left:42px;top:536px;width:665px;height:1px;background:#7e7e7e"></div>
<div class="c d" style="left:201.50px;top:537.30px;width:129.30px;height:16.40px"><span>24000</span></div>
<div class="c d" style="left:330.80px;top:537.30px;width:124.20px;height:16.40px"><span>36000</span></div>
<div class="c d" style="left:455.00px;top:537.30px;width:129.00px;height:16.40px"><span>48000</span></div>
<div class="c d" style="left:584.00px;top:537.30px;width:122.90px;height:16.40px"><span>60000</span></div>
<div class="c lb" style="left:42.20px;top:553.70px;width:159.30px;height:18.90px"><span style="transform:scaleX(0.992)">Indoor air flow(High speed) (m<sup>3</sup>/h)</span></div>
<div class="l" style="left:42px;top:553px;width:665px;height:1px;background:#7e7e7e"></div>
<div class="c d" style="left:201.50px;top:553.70px;width:129.30px;height:18.90px"><span>1200</span></div>
<div class="c d" style="left:330.80px;top:553.70px;width:124.20px;height:18.90px"><span>1200</span></div>
<div class="c d" style="left:455.00px;top:553.70px;width:129.00px;height:18.90px"><span>1700</span></div>
<div class="c d" style="left:584.00px;top:553.70px;width:122.90px;height:18.90px"><span>1700</span></div>
<div class="c lb" style="left:42.20px;top:572.60px;width:159.30px;height:18.00px"><span style="transform:scaleX(0.961)">Indoor noise level (dB(A))</span></div>
<div class="l" style="left:42px;top:572px;width:665px;height:1px;background:#7e7e7e"></div>
<div class="c d" style="left:201.50px;top:572.60px;width:129.30px;height:18.00px"><span>45-52</span></div>
<div class="c d" style="left:330.80px;top:572.60px;width:124.20px;height:18.00px"><span>45-52</span></div>
<div class="c d" style="left:455.00px;top:572.60px;width:129.00px;height:18.00px"><span>51-57</span></div>
<div class="c d" style="left:584.00px;top:572.60px;width:122.90px;height:18.00px"><span>51-57</span></div>
<div class="c lb" style="left:95.30px;top:590.60px;width:106.20px;height:18.60px"><span style="transform:scaleX(0.964)">Bady (WxDxH) (mm)</span></div>
<div class="l" style="left:42px;top:590px;width:665px;height:1px;background:#7e7e7e"></div>
<div class="c d" style="left:201.50px;top:590.60px;width:129.30px;height:18.60px"><span>840×840×230</span></div>
<div class="c d" style="left:330.80px;top:590.60px;width:124.20px;height:18.60px"><span>840×840×285</span></div>
<div class="c d" style="left:455.00px;top:590.60px;width:129.00px;height:18.60px"><span>840×840×285</span></div>
<div class="c d" style="left:584.00px;top:590.60px;width:122.90px;height:18.60px"><span>840×840×285</span></div>
<div class="c lb" style="left:95.30px;top:609.20px;width:106.20px;height:17.40px"><span style="transform:scaleX(0.963)">Packing (WxDxH)(mm)</span></div>
<div class="l" style="left:95px;top:608px;width:612px;height:1px;background:#7e7e7e"></div>
<div class="c d" style="left:201.50px;top:609.20px;width:129.30px;height:17.40px"><span>920×920×310</span></div>
<div class="c d" style="left:330.80px;top:609.20px;width:124.20px;height:17.40px"><span>920×920×310</span></div>
<div class="c d" style="left:455.00px;top:609.20px;width:129.00px;height:17.40px"><span>920×920×375</span></div>
<div class="c d" style="left:584.00px;top:609.20px;width:122.90px;height:17.40px"><span>920×920×375</span></div>
<div class="c lb" style="left:42.20px;top:537.30px;width:53.10px;height:16.40px"><span style="transform:scaleX(1.01)">Cooling</span></div>
<div class="l" style="left:95px;top:536px;width:1px;height:18px;background:#8a8a8a"></div>
<div class="c lb" style="left:42.20px;top:590.60px;width:53.10px;height:36.00px"><span style="transform:scaleX(0.989)">Dimension</span></div>
<div class="l" style="left:95px;top:590px;width:1px;height:36px;background:#8a8a8a"></div>
<div class="l" style="left:42px;top:626px;width:665px;height:1px;background:#7e7e7e"></div>
<div class="l" style="left:42px;top:515px;width:1px;height:111px;background:#7e7e7e"></div>
<div class="l" style="left:706px;top:515px;width:1px;height:111px;background:#7e7e7e"></div>
<div class="l" style="left:201px;top:515px;width:1px;height:111px;background:#8a8a8a"></div>
<div class="l" style="left:201px;top:496px;width:1px;height:20px;background:rgba(50,85,125,.35)"></div>
<div class="l" style="left:330px;top:515px;width:1px;height:111px;background:#8a8a8a"></div>
<div class="l" style="left:330px;top:496px;width:1px;height:20px;background:rgba(50,85,125,.35)"></div>
<div class="l" style="left:454px;top:515px;width:1px;height:111px;background:#8a8a8a"></div>
<div class="l" style="left:454px;top:496px;width:1px;height:20px;background:rgba(50,85,125,.35)"></div>
<div class="l" style="left:584px;top:515px;width:1px;height:111px;background:#8a8a8a"></div>
<div class="l" style="left:584px;top:496px;width:1px;height:20px;background:rgba(50,85,125,.35)"></div>
<div class="t" style="left:37.90px;top:631.85px;font-size:14.5px;line-height:16.660px"><span style="transform:scaleX(1.1000)">13</span></div>
<div class="t" style="left:61.23px;top:631.85px;font-size:14.5px;line-height:16.660px"><span style="transform:scaleX(0.8658)">SEER</span></div>
<div class="t" style="left:99.12px;top:631.85px;font-size:14.5px;line-height:16.660px"><span style="transform:scaleX(1.0796)">ON/OFF</span></div>
<div class="t" style="left:162.38px;top:631.85px;font-size:14.5px;line-height:16.660px"><span style="transform:scaleX(1.0242)">COOLING</span></div>
<div class="t" style="left:235.70px;top:631.85px;font-size:14.5px;line-height:16.660px"><span style="transform:scaleX(1.0000)">ONLY</span></div>
<div class="t" style="left:279.48px;top:631.85px;font-size:14.5px;line-height:16.660px"><span style="transform:scaleX(1.0200)">(Duct)</span></div>
<svg class="l" style="left:670.30px;top:631.10px" width="34.30" height="15.30" viewBox="0 0 34.4 15.3" preserveAspectRatio="none">
<rect x="0.55" y="0.55" width="33.3" height="14.2" rx="2" fill="#f4faf4" stroke="#5fa46f" stroke-width="1.05"/>
<path d="M2.1,3.8 L3.9,2.5 L3.9,3.0 L7.5,3.0 C10.9,3.0 10.9,8.1 7.5,8.1 L6.7,8.1 C8.5,9.2 9.3,10.6 9.5,12.4 C6.3,11.9 4.3,10 4.3,6.6 L7.3,6.6 C8.6,6.6 8.6,4.6 7.3,4.6 L3.9,4.6 L3.9,5.1 Z" fill="#1f7a3a"/>
<text y="12.15" x="9.2 13.6 18.6 24.3" font-family="Liberation Sans, sans-serif" font-size="12.7" fill="#1c6f35">410A</text>
</svg>
<div class="hb" style="left:40.90px;top:650.20px;width:665.90px;height:19.00px"></div>
<div class="c h" style="left:40.90px;top:650.80px;width:158.50px;height:19.00px"><span style="transform:scaleX(1.03)">Model</span></div>
<div class="c h" style="left:199.40px;top:650.80px;width:129.20px;height:19.00px"><span>DDUA-24CDG</span></div>
<div class="c h" style="left:328.60px;top:650.80px;width:124.00px;height:19.00px"><span>DDUA-36CDG</span></div>
<div class="c h" style="left:452.60px;top:650.80px;width:130.30px;height:19.00px"><span>DDUA-48CDG</span></div>
<div class="c h" style="left:582.90px;top:650.80px;width:123.90px;height:19.00px"><span>DDUA-60CDG</span></div>
<div class="c lb" style="left:40.90px;top:669.80px;width:158.50px;height:21.50px"><span style="transform:scaleX(0.993)">Power supply</span></div>
<div class="l" style="left:40px;top:669px;width:667px;height:1px;background:#7e7e7e"></div>
<div class="c d" style="left:199.40px;top:669.80px;width:129.20px;height:21.50px"><span>208~230V-1Ph-60Hz</span></div>
<div class="c d" style="left:328.60px;top:669.80px;width:124.00px;height:21.50px"><span>208~230V-1Ph-60Hz</span></div>
<div class="c d" style="left:452.60px;top:669.80px;width:130.30px;height:21.50px"><span>208~230V-1Ph-60Hz</span></div>
<div class="c d" style="left:582.90px;top:669.80px;width:123.90px;height:21.50px"><span>208~230V-1Ph-60Hz</span></div>
<div class="c lb" style="left:94.40px;top:691.30px;width:105.00px;height:16.30px"><span style="transform:scaleX(1.008)">Capacity(Btu/h)</span></div>
<div class="l" style="left:40px;top:690px;width:667px;height:1px;background:#7e7e7e"></div>
<div class="c d" style="left:199.40px;top:691.30px;width:129.20px;height:16.30px"><span>24000</span></div>
<div class="c d" style="left:328.60px;top:691.30px;width:124.00px;height:16.30px"><span>36000</span></div>
<div class="c d" style="left:452.60px;top:691.30px;width:130.30px;height:16.30px"><span>48000</span></div>
<div class="c d" style="left:582.90px;top:691.30px;width:123.90px;height:16.30px"><span>60000</span></div>
<div class="c lb" style="left:40.90px;top:707.60px;width:158.50px;height:19.00px"><span style="transform:scaleX(0.977)">Indoor external static pressure (pa)</span></div>
<div class="l" style="left:40px;top:706px;width:667px;height:1px;background:#7e7e7e"></div>
<div class="c d" style="left:199.40px;top:707.60px;width:129.20px;height:19.00px"><span>30</span></div>
<div class="c d" style="left:328.60px;top:707.60px;width:124.00px;height:19.00px"><span>30</span></div>
<div class="c d" style="left:452.60px;top:707.60px;width:130.30px;height:19.00px"><span>30</span></div>
<div class="c d" style="left:582.90px;top:707.60px;width:123.90px;height:19.00px"><span>30</span></div>
<div class="c lb" style="left:40.90px;top:726.60px;width:158.50px;height:18.90px"><span style="transform:scaleX(0.992)">Indoor air flow(High speed) (m<sup>3</sup>/h)</span></div>
<div class="l" style="left:40px;top:726px;width:667px;height:1px;background:#7e7e7e"></div>
<div class="c d" style="left:199.40px;top:726.60px;width:129.20px;height:18.90px"><span>1150</span></div>
<div class="c d" style="left:328.60px;top:726.60px;width:124.00px;height:18.90px"><span>1300</span></div>
<div class="c d" style="left:452.60px;top:726.60px;width:130.30px;height:18.90px"><span>2000</span></div>
<div class="c d" style="left:582.90px;top:726.60px;width:123.90px;height:18.90px"><span>2000</span></div>
<div class="c lb" style="left:40.90px;top:745.50px;width:158.50px;height:17.70px"><span style="transform:scaleX(0.961)">Indoor noise level (dB(A))</span></div>
<div class="l" style="left:40px;top:744px;width:667px;height:1px;background:#7e7e7e"></div>
<div class="c d" style="left:199.40px;top:745.50px;width:129.20px;height:17.70px"><span>40-52</span></div>
<div class="c d" style="left:328.60px;top:745.50px;width:124.00px;height:17.70px"><span>45-50</span></div>
<div class="c d" style="left:452.60px;top:745.50px;width:130.30px;height:17.70px"><span>51-56</span></div>
<div class="c d" style="left:582.90px;top:745.50px;width:123.90px;height:17.70px"><span>51-56</span></div>
<div class="c lb" style="left:94.40px;top:763.20px;width:105.00px;height:18.40px"><span style="transform:scaleX(0.964)">Bady (WxDxH) (mm)</span></div>
<div class="l" style="left:40px;top:762px;width:667px;height:1px;background:#7e7e7e"></div>
<div class="c d" style="left:199.40px;top:763.20px;width:129.20px;height:18.40px"><span>1190×260×643</span></div>
<div class="c d" style="left:328.60px;top:763.20px;width:124.00px;height:18.40px"><span>1190×260×643</span></div>
<div class="c d" style="left:452.60px;top:763.20px;width:130.30px;height:18.40px"><span>1425×260×643</span></div>
<div class="c d" style="left:582.90px;top:763.20px;width:123.90px;height:18.40px"><span>1425×260×643</span></div>
<div class="c lb" style="left:94.40px;top:781.60px;width:105.00px;height:18.00px"><span style="transform:scaleX(0.963)">Packing (WxDxH)(mm)</span></div>
<div class="l" style="left:94px;top:780px;width:613px;height:1px;background:#7e7e7e"></div>
<div class="c d" style="left:199.40px;top:781.60px;width:129.20px;height:18.00px"><span>1255×325×720</span></div>
<div class="c d" style="left:328.60px;top:781.60px;width:124.00px;height:18.00px"><span>1255×325×720</span></div>
<div class="c d" style="left:452.60px;top:781.60px;width:130.30px;height:18.00px"><span>1490×325×720</span></div>
<div class="c d" style="left:582.90px;top:781.60px;width:123.90px;height:18.00px"><span>1490×325×720</span></div>
<div class="c lb" style="left:40.90px;top:691.30px;width:53.50px;height:16.30px"><span style="transform:scaleX(1.01)">Cooling</span></div>
<div class="l" style="left:94px;top:690px;width:1px;height:18px;background:#8a8a8a"></div>
<div class="c lb" style="left:40.90px;top:763.20px;width:53.50px;height:36.40px"><span style="transform:scaleX(0.989)">Dimension</span></div>
<div class="l" style="left:94px;top:762px;width:1px;height:38px;background:#8a8a8a"></div>
<div class="l" style="left:40px;top:798px;width:667px;height:1px;background:#7e7e7e"></div>
<div class="l" style="left:40px;top:669px;width:1px;height:131px;background:#7e7e7e"></div>
<div class="l" style="left:706px;top:669px;width:1px;height:131px;background:#7e7e7e"></div>
<div class="l" style="left:199px;top:669px;width:1px;height:131px;background:#8a8a8a"></div>
<div class="l" style="left:199px;top:650px;width:1px;height:20px;background:rgba(50,85,125,.35)"></div>
<div class="l" style="left:328px;top:669px;width:1px;height:131px;background:#8a8a8a"></div>
<div class="l" style="left:328px;top:650px;width:1px;height:20px;background:rgba(50,85,125,.35)"></div>
<div class="l" style="left:452px;top:669px;width:1px;height:131px;background:#8a8a8a"></div>
<div class="l" style="left:452px;top:650px;width:1px;height:20px;background:rgba(50,85,125,.35)"></div>
<div class="l" style="left:582px;top:669px;width:1px;height:131px;background:#8a8a8a"></div>
<div class="l" style="left:582px;top:650px;width:1px;height:20px;background:rgba(50,85,125,.35)"></div>
<div class="t" style="left:36.80px;top:812.05px;font-size:14.5px;line-height:16.660px"><span style="transform:scaleX(1.1000)">13</span></div>
<div class="t" style="left:60.13px;top:812.05px;font-size:14.5px;line-height:16.660px"><span style="transform:scaleX(0.8658)">SEER</span></div>
<div class="t" style="left:98.02px;top:812.05px;font-size:14.5px;line-height:16.660px"><span style="transform:scaleX(1.0796)">ON/OFF</span></div>
<div class="t" style="left:161.28px;top:812.05px;font-size:14.5px;line-height:16.660px"><span style="transform:scaleX(1.0242)">COOLING</span></div>
<div class="t" style="left:234.60px;top:812.05px;font-size:14.5px;line-height:16.660px"><span style="transform:scaleX(1.0000)">ONLY</span></div>
<div class="t" style="left:278.61px;top:812.05px;font-size:14.5px;line-height:16.660px"><span style="transform:scaleX(0.9884)">(Air Handler)</span></div>
<svg class="l" style="left:670.30px;top:810.10px" width="34.30" height="15.50" viewBox="0 0 34.4 15.3" preserveAspectRatio="none">
<rect x="0.55" y="0.55" width="33.3" height="14.2" rx="2" fill="#f4faf4" stroke="#5fa46f" stroke-width="1.05"/>
<path d="M2.1,3.8 L3.9,2.5 L3.9,3.0 L7.5,3.0 C10.9,3.0 10.9,8.1 7.5,8.1 L6.7,8.1 C8.5,9.2 9.3,10.6 9.5,12.4 C6.3,11.9 4.3,10 4.3,6.6 L7.3,6.6 C8.6,6.6 8.6,4.6 7.3,4.6 L3.9,4.6 L3.9,5.1 Z" fill="#1f7a3a"/>
<text y="12.15" x="9.2 13.6 18.6 24.3" font-family="Liberation Sans, sans-serif" font-size="12.7" fill="#1c6f35">410A</text>
</svg>
<div class="hb" style="left:39.30px;top:836.00px;width:667.30px;height:17.40px"></div>
<div class="c h" style="left:39.30px;top:836.60px;width:158.20px;height:17.40px"><span style="transform:scaleX(1.03)">Model</span></div>
<div class="c h" style="left:197.50px;top:836.60px;width:251.50px;height:17.40px"><span>DAUA-36CDG</span></div>
<div class="c h" style="left:449.00px;top:836.60px;width:257.60px;height:17.40px"><span>DAUA-60CDG</span></div>
<div class="c lb" style="left:39.30px;top:854.00px;width:158.20px;height:21.00px"><span style="transform:scaleX(0.993)">Power supply</span></div>
<div class="l" style="left:39px;top:853px;width:668px;height:1px;background:#7e7e7e"></div>
<div class="c d" style="left:197.50px;top:854.00px;width:251.50px;height:21.00px"><span>208~230V-1Ph-60Hz</span></div>
<div class="c d" style="left:449.00px;top:854.00px;width:257.60px;height:21.00px"><span>208~230V-1Ph-60Hz</span></div>
<div class="c lb" style="left:92.70px;top:875.00px;width:104.80px;height:16.70px"><span style="transform:scaleX(1.008)">Capacity(Btu/h)</span></div>
<div class="l" style="left:39px;top:874px;width:668px;height:1px;background:#7e7e7e"></div>
<div class="c d" style="left:197.50px;top:875.00px;width:251.50px;height:16.70px"><span>36000</span></div>
<div class="c d" style="left:449.00px;top:875.00px;width:257.60px;height:16.70px"><span>60000</span></div>
<div class="c lb" style="left:39.30px;top:891.70px;width:158.20px;height:18.60px"><span style="transform:scaleX(0.899)">ESP (pa)</span></div>
<div class="l" style="left:39px;top:891px;width:668px;height:1px;background:#7e7e7e"></div>
<div class="c d" style="left:197.50px;top:891.70px;width:251.50px;height:18.60px"><span>37</span></div>
<div class="c d" style="left:449.00px;top:891.70px;width:257.60px;height:18.60px"><span>50</span></div>
<div class="c lb" style="left:39.30px;top:910.30px;width:158.20px;height:18.70px"><span style="transform:scaleX(1.019)">Indoor air flow (m<sup>3</sup>/h)</span></div>
<div class="l" style="left:39px;top:909px;width:668px;height:1px;background:#7e7e7e"></div>
<div class="c d" style="left:197.50px;top:910.30px;width:251.50px;height:18.70px"><span>1700</span></div>
<div class="c d" style="left:449.00px;top:910.30px;width:257.60px;height:18.70px"><span>2500</span></div>
<div class="c lb" style="left:39.30px;top:929.00px;width:158.20px;height:18.20px"><span style="transform:scaleX(1.0)">Indoor air flow (CFM)</span></div>
<div class="l" style="left:39px;top:928px;width:668px;height:1px;background:#7e7e7e"></div>
<div class="c d" style="left:197.50px;top:929.00px;width:251.50px;height:18.20px"><span>2890</span></div>
<div class="c d" style="left:449.00px;top:929.00px;width:257.60px;height:18.20px"><span>4250</span></div>
<div class="c lb" style="left:39.30px;top:947.20px;width:158.20px;height:17.90px"><span style="transform:scaleX(0.961)">Indoor noise level (dB(A))</span></div>
<div class="l" style="left:39px;top:946px;width:668px;height:1px;background:#7e7e7e"></div>
<div class="c d" style="left:197.50px;top:947.20px;width:251.50px;height:17.90px"><span>51-56</span></div>
<div class="c d" style="left:449.00px;top:947.20px;width:257.60px;height:17.90px"><span>51-57</span></div>
<div class="c lb" style="left:92.70px;top:965.10px;width:104.80px;height:18.50px"><span style="transform:scaleX(0.964)">Bady (WxDxH) (mm)</span></div>
<div class="l" style="left:39px;top:964px;width:668px;height:1px;background:#7e7e7e"></div>
<div class="c d" style="left:197.50px;top:965.10px;width:251.50px;height:18.50px"><span>460×774×520</span></div>
<div class="c d" style="left:449.00px;top:965.10px;width:257.60px;height:18.50px"><span>500×1140×550</span></div>
<div class="c lb" style="left:92.70px;top:983.60px;width:104.80px;height:17.60px"><span style="transform:scaleX(0.963)">Packing (WxDxH)(mm)</span></div>
<div class="l" style="left:92px;top:982px;width:615px;height:1px;background:#7e7e7e"></div>
<div class="c d" style="left:197.50px;top:983.60px;width:251.50px;height:17.60px"><span>520×834×565</span></div>
<div class="c d" style="left:449.00px;top:983.60px;width:257.60px;height:17.60px"><span>560×1180×595</span></div>
<div class="c lb" style="left:39.30px;top:875.00px;width:53.40px;height:16.70px"><span style="transform:scaleX(1.01)">Cooling</span></div>
<div class="l" style="left:92px;top:874px;width:1px;height:18px;background:#8a8a8a"></div>
<div class="c lb" style="left:39.30px;top:965.10px;width:53.40px;height:36.10px"><span style="transform:scaleX(0.989)">Dimension</span></div>
<div class="l" style="left:92px;top:964px;width:1px;height:37px;background:#8a8a8a"></div>
<div class="l" style="left:39px;top:1000px;width:668px;height:1px;background:#7e7e7e"></div>
<div class="l" style="left:39px;top:853px;width:1px;height:148px;background:#7e7e7e"></div>
<div class="l" style="left:706px;top:853px;width:1px;height:148px;background:#7e7e7e"></div>
<div class="l" style="left:197px;top:853px;width:1px;height:148px;background:#8a8a8a"></div>
<div class="l" style="left:197px;top:836px;width:1px;height:18px;background:rgba(50,85,125,.35)"></div>
<div class="l" style="left:448px;top:853px;width:1px;height:148px;background:#8a8a8a"></div>
<div class="l" style="left:448px;top:836px;width:1px;height:18px;background:rgba(50,85,125,.35)"></div>
</body></html>
